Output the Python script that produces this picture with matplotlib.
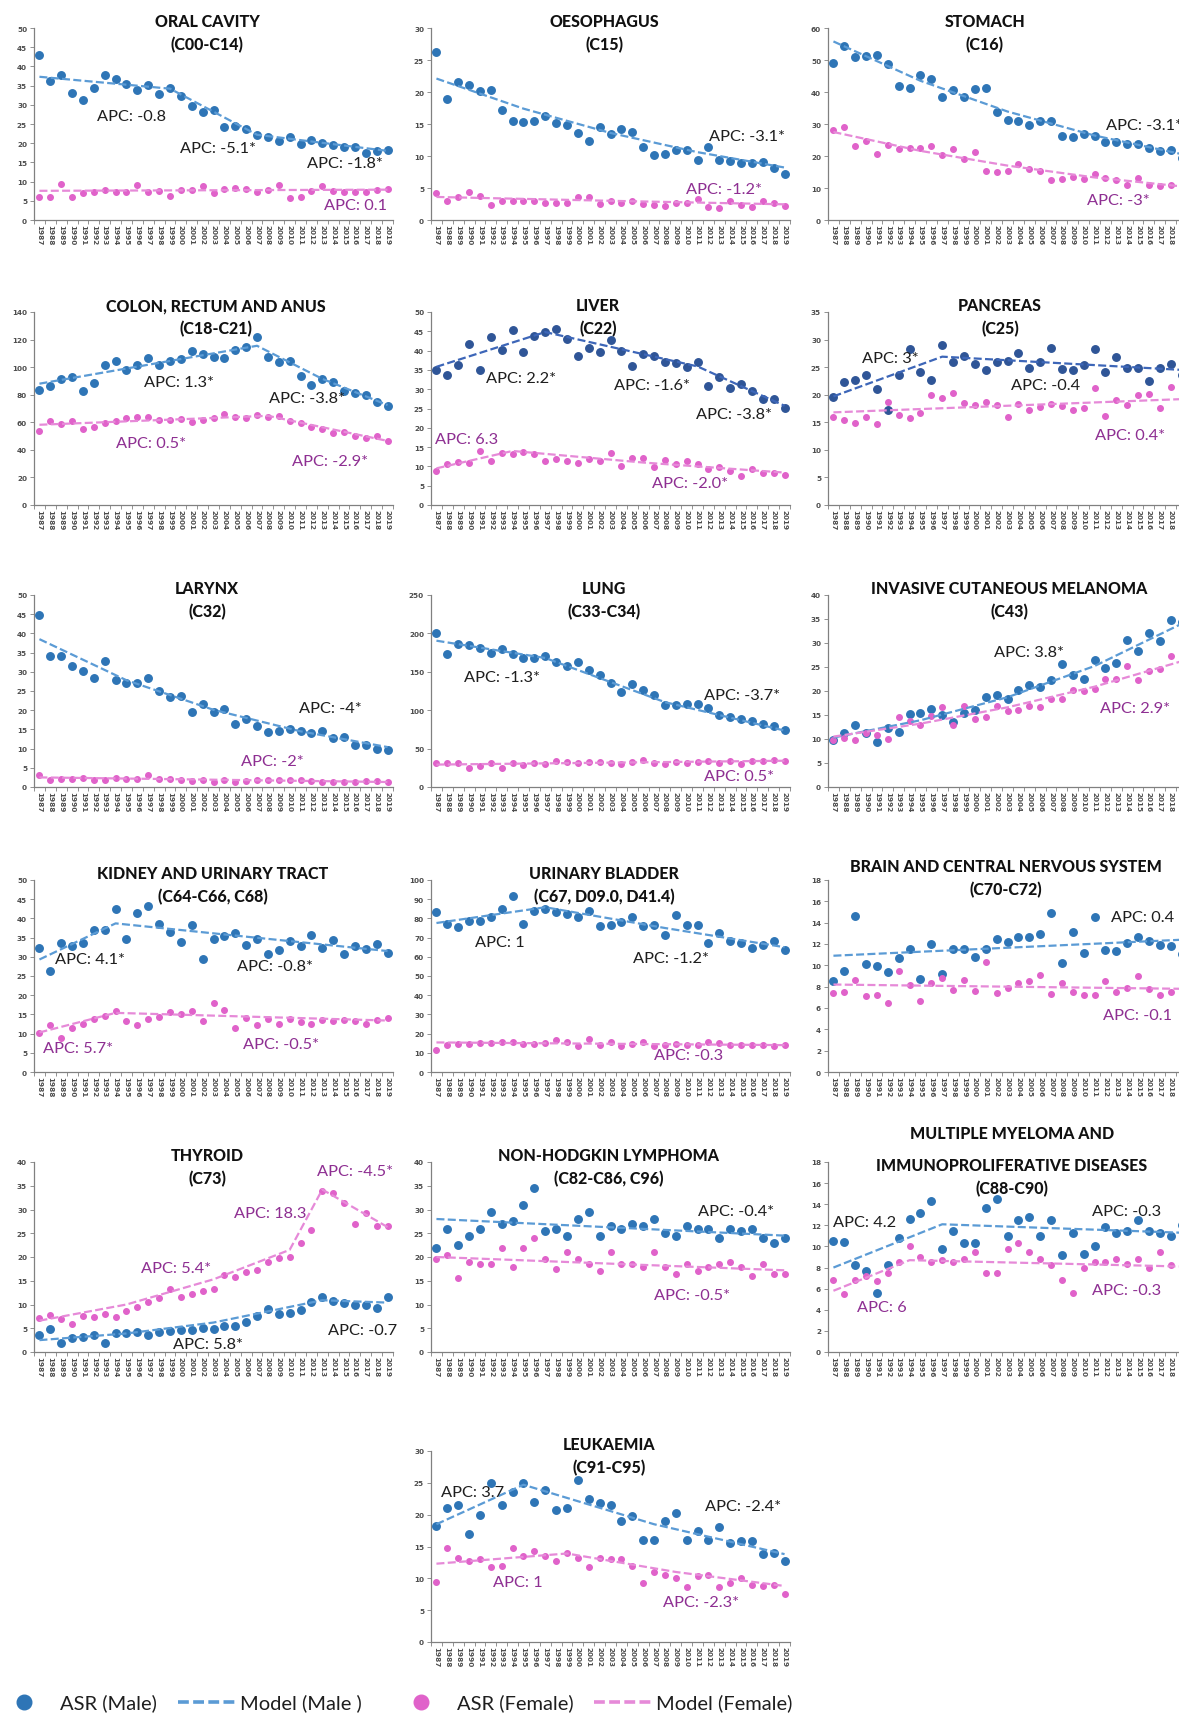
import matplotlib
matplotlib.use("Agg")
import matplotlib.pyplot as plt
import numpy as np

# ---------------------------------------------------------------------------
# Age-standardised incidence rates (ASR) by sex, 1987-2019, with joinpoint
# model knots (year, modelled rate) and annual percent change (APC) labels.
# ---------------------------------------------------------------------------
YEARS = list(range(1987, 2020))

ORAL_TITLE = ["ORAL CAVITY", "(C00-C14)"]
ORAL_M = [43.0, 36.3, 37.7, 33.2, 31.3, 34.5, 37.7, 36.7, 35.5, 33.9, 35.1, 32.7, 34.3, 32.4, 29.7, 28.0, 28.6,
          24.3, 24.4, 23.6, 22.1, 21.7, 20.7, 21.7, 19.8, 20.9, 20.0, 19.6, 19.1, 18.9, 17.4, 18.0, 18.3]
ORAL_F = [6.1, 6.1, 9.5, 5.9, 7.1, 7.2, 7.8, 7.2, 7.3, 9.0, 7.4, 7.5, 6.3, 7.8, 7.8, 8.9, 7.0,
          8.2, 8.4, 8.1, 7.3, 7.7, 9.2, 5.6, 6.1, 7.6, 8.9, 7.6, 7.3, 7.3, 7.4, 7.8, 8.0]
ORAL_FIT_M = ([1987, 1999, 2007, 2019], [37.3, 34.2, 22.2, 18.0])
ORAL_FIT_F = ([1987, 2019], [7.6, 7.9])
ORAL_APC_M = ["-0.8", "-5.1*", "-1.8*"]
ORAL_APC_F = ["0.1"]

OES_TITLE = ["OESOPHAGUS", "(C15)"]
OES_M = [26.2, 18.9, 21.6, 21.1, 20.1, 20.3, 17.2, 15.5, 15.3, 15.4, 16.3, 15.2, 14.8, 13.6, 12.4, 14.6, 13.4,
         14.2, 13.7, 11.4, 10.2, 10.3, 10.9, 10.9, 9.3, 11.4, 9.3, 9.2, 8.9, 8.9, 9.1, 8.1, 7.2]
OES_F = [4.2, 3.0, 3.6, 4.4, 3.8, 2.4, 2.9, 3.0, 2.9, 3.0, 2.7, 2.7, 2.7, 3.6, 3.6, 2.5, 2.9,
         2.7, 3.0, 2.5, 2.4, 2.2, 2.7, 2.7, 3.3, 2.1, 1.9, 2.9, 2.3, 2.0, 2.9, 2.6, 2.2]
OES_FIT_M = ([1987, 1995, 2003, 2011, 2019], [22.1, 17.4, 13.6, 10.6, 8.2])
OES_FIT_F = ([1987, 2003, 2019], [3.6, 3.0, 2.45])
OES_APC_M = ["-3.1*"]
OES_APC_F = ["-1.2*"]

STOM_TITLE = ["STOMACH", "(C16)"]
STOM_M = [49.1, 54.3, 51.0, 51.3, 51.5, 48.9, 42.0, 41.4, 45.2, 44.0, 38.5, 40.7, 38.3, 41.0, 41.2, 33.8, 31.2,
          31.0, 29.8, 30.9, 31.0, 26.3, 25.9, 27.0, 26.4, 24.3, 24.3, 23.9, 23.8, 22.6, 21.5, 21.8, 19.4]
STOM_F = [28.1, 29.2, 23.0, 24.6, 20.5, 23.4, 22.1, 22.5, 22.5, 23.2, 20.4, 22.1, 19.0, 21.1, 15.3, 14.9, 15.4,
          17.4, 15.8, 15.4, 12.6, 12.9, 13.4, 12.9, 14.5, 13.0, 12.4, 10.8, 13.1, 10.8, 10.6, 10.9, 10.5]
STOM_FIT_M = ([1987, 1995, 2003, 2011, 2019], [55.8, 43.5, 33.9, 26.4, 20.6])
STOM_FIT_F = ([1987, 1995, 2003, 2011, 2019], [27.5, 21.6, 17.0, 13.3, 10.5])
STOM_APC_M = ["-3.1*"]
STOM_APC_F = ["-3*"]

COLON_TITLE = ["COLON, RECTUM AND ANUS", "(C18-C21)"]
COLON_M = [83.2, 86.1, 91.2, 92.7, 82.7, 88.6, 101.4, 104.6, 97.8, 101.2, 106.5, 101.7, 104.8, 105.8, 111.9,
           109.2, 107.0, 106.5, 112.4, 114.3, 121.6, 107.3, 103.9, 104.3, 93.9, 87.4, 91.5, 89.3, 82.7, 81.5,
           80.1, 75.0, 71.6]
COLON_F = [53.9, 61.2, 58.7, 61.2, 54.8, 56.3, 59.7, 60.7, 63.1, 63.6, 64.1, 61.9, 61.4, 62.1, 59.9, 61.6,
           62.8, 66.0, 63.6, 63.1, 65.0, 64.1, 64.5, 61.2, 59.5, 56.5, 55.3, 51.9, 53.1, 50.2, 48.8, 50.2, 46.1]
COLON_FIT_M = ([1987, 2007, 2013, 2019], [88.0, 115.5, 91.5, 72.5])
COLON_FIT_F = ([1987, 2008, 2019], [58.2, 64.7, 46.5])
COLON_APC_M = ["1.3*", "-3.8*"]
COLON_APC_F = ["0.5*", "-2.9*"]

LIVER_TITLE = ["LIVER", "(C22)"]
LIVER_M = [35.1, 33.7, 36.3, 41.6, 35.0, 43.4, 40.2, 45.3, 39.6, 43.7, 44.7, 45.5, 43.0, 38.7, 40.7, 39.6,
           42.7, 39.9, 36.1, 39.1, 38.5, 37.0, 36.7, 35.7, 37.0, 30.7, 33.2, 30.2, 31.4, 29.5, 27.5, 27.5, 25.2]
LIVER_F = [8.7, 10.5, 11.1, 11.0, 14.1, 11.5, 13.4, 13.3, 13.8, 13.1, 11.4, 12.0, 11.5, 11.0, 11.9, 11.3,
           13.5, 10.1, 12.1, 12.1, 9.9, 11.7, 10.6, 11.4, 10.5, 9.3, 9.8, 8.7, 7.5, 9.3, 8.3, 8.3, 7.8]
LIVER_FIT_M = ([1987, 1997, 2011, 2019], [35.8, 44.8, 35.9, 25.7])
LIVER_FIT_F = ([1987, 1994, 2006, 2019], [9.5, 14.0, 11.0, 8.4])
LIVER_APC_M = ["2.2*", "-1.6*", "-3.8*"]
LIVER_APC_F = ["6.3", "-2.0*"]

PANC_TITLE = ["PANCREAS", "(C25)"]
PANC_M = [19.6, 22.3, 22.6, 23.6, 21.1, 17.3, 23.6, 28.3, 24.2, 22.7, 29.1, 25.9, 27.0, 25.6, 24.5, 25.9,
          26.1, 27.6, 24.8, 26.0, 28.5, 24.7, 24.5, 25.3, 28.3, 24.2, 26.9, 24.8, 24.8, 22.5, 24.8, 25.5, 23.6]
PANC_F = [15.9, 15.4, 14.9, 15.9, 14.6, 18.7, 16.4, 15.8, 16.7, 19.9, 19.4, 20.3, 18.5, 18.1, 18.6, 18.2,
          15.9, 18.4, 17.3, 17.7, 18.4, 18.0, 17.3, 17.6, 21.2, 16.2, 19.0, 18.1, 19.9, 20.1, 17.6, 21.4, 17.0]
PANC_FIT_M = ([1987, 1997, 2019], [19.7, 26.9, 24.5])
PANC_FIT_F = ([1987, 2019], [16.8, 19.2])
PANC_APC_M = ["3*", "-0.4"]
PANC_APC_F = ["0.4*"]

LARYNX_TITLE = ["LARYNX", "(C32)"]
LARYNX_M = [44.9, 34.0, 34.0, 31.5, 30.2, 28.4, 32.9, 27.8, 27.2, 27.0, 28.4, 25.0, 23.4, 23.6, 19.6, 21.6,
            19.6, 20.3, 16.5, 17.6, 16.0, 14.3, 14.6, 15.0, 14.5, 14.1, 14.7, 12.8, 13.0, 11.0, 10.9, 10.0, 9.7]
LARYNX_F = [3.1, 1.8, 2.2, 2.1, 2.4, 1.9, 1.9, 2.3, 2.0, 2.1, 3.0, 2.2, 2.0, 1.7, 1.5, 1.7, 1.4,
            1.7, 1.4, 1.5, 1.7, 1.8, 1.8, 1.7, 1.7, 1.6, 1.3, 1.3, 1.3, 1.3, 1.5, 1.5, 1.2]
LARYNX_FIT_M = ([1987, 1995, 2003, 2011, 2019], [38.5, 27.8, 20.1, 14.5, 10.4])
LARYNX_FIT_F = ([1987, 2019], [2.5, 1.3])
LARYNX_APC_M = ["-4*"]
LARYNX_APC_F = ["-2*"]

LUNG_TITLE = ["LUNG", "(C33-C34)"]
LUNG_M = [200.4, 173.5, 185.7, 184.3, 180.9, 174.3, 179.1, 173.0, 167.4, 167.8, 170.0, 162.6, 157.8, 162.6,
          151.7, 145.2, 135.2, 123.9, 133.9, 126.1, 120.0, 106.5, 107.4, 108.7, 107.8, 102.6, 93.9, 91.3,
          88.7, 86.1, 82.2, 80.0, 73.9]
LUNG_F = [31.3, 30.9, 30.9, 24.8, 27.0, 30.9, 25.2, 31.3, 28.3, 30.9, 29.6, 33.5, 32.2, 31.3, 32.2, 33.0,
          30.9, 30.0, 32.2, 34.8, 31.7, 29.6, 32.2, 31.7, 32.2, 33.9, 31.7, 34.3, 30.4, 33.5, 33.5, 34.8, 33.9]
LUNG_FIT_M = ([1987, 1997, 2008, 2019], [190.5, 168.0, 110.5, 73.5])
LUNG_FIT_F = ([1987, 2019], [29.2, 34.2])
LUNG_APC_M = ["-1.3*", "-3.7*"]
LUNG_APC_F = ["0.5*"]

MELA_TITLE = ["INVASIVE CUTANEOUS MELANOMA", "(C43)"]
MELA_M = [9.8, 11.2, 12.9, 11.2, 9.4, 12.2, 11.4, 15.3, 15.4, 16.3, 15.0, 13.5, 15.4, 16.1, 18.7, 19.1, 18.3,
          20.2, 21.3, 20.9, 22.3, 25.7, 23.4, 22.5, 26.4, 24.8, 25.9, 30.6, 28.4, 32.1, 30.4, 34.7, 34.4]
MELA_F = [9.7, 10.2, 9.7, 11.2, 10.9, 9.9, 14.6, 13.8, 12.9, 14.8, 16.6, 13.0, 16.8, 14.1, 14.6, 16.9, 15.9,
          16.1, 16.8, 16.7, 18.3, 18.4, 20.3, 20.1, 20.5, 22.5, 22.5, 25.2, 22.3, 24.1, 24.6, 27.3, 23.7]
MELA_FIT_M = ([1987, 1995, 2003, 2011, 2019], [10.3, 13.9, 18.7, 25.2, 34.0])
MELA_FIT_F = ([1987, 1995, 2003, 2011, 2019], [10.5, 13.2, 16.6, 20.9, 26.2])
MELA_APC_M = ["3.8*"]
MELA_APC_F = ["2.9*"]

KID_TITLE = ["KIDNEY AND URINARY TRACT", "(C64-C66, C68)"]
KID_M = [32.3, 26.4, 33.5, 32.7, 33.5, 37.0, 37.0, 42.4, 34.7, 41.4, 43.1, 38.6, 36.5, 33.9, 38.4, 29.4, 34.7,
         35.4, 36.1, 33.0, 34.7, 30.7, 31.8, 34.2, 32.7, 35.8, 32.2, 34.3, 30.8, 32.8, 32.1, 33.3, 30.9]
KID_F = [10.1, 12.3, 8.9, 11.5, 12.6, 13.9, 14.6, 15.8, 13.4, 12.3, 13.9, 14.2, 15.5, 15.2, 16.0, 13.4, 17.9,
         16.1, 11.5, 14.0, 12.2, 13.7, 12.6, 13.9, 13.1, 12.6, 13.6, 13.2, 13.5, 13.2, 12.6, 13.6, 14.0]
KID_FIT_M = ([1987, 1994, 2019], [29.3, 38.7, 31.5])
KID_FIT_F = ([1987, 1994, 2019], [10.3, 15.4, 13.4])
KID_APC_M = ["4.1*", "-0.8*"]
KID_APC_F = ["5.7*", "-0.5*"]

BLAD_TITLE = ["URINARY BLADDER", "(C67, D09.0, D41.4)"]
BLAD_M = [83.5, 76.9, 75.3, 78.8, 78.8, 80.6, 84.7, 91.8, 77.1, 84.0, 85.1, 83.5, 82.1, 80.9, 83.9, 75.9, 76.4,
          78.1, 80.6, 76.0, 76.7, 71.2, 81.8, 76.4, 76.4, 67.0, 72.4, 68.1, 67.4, 64.8, 66.3, 68.2, 63.5]
BLAD_F = [11.3, 14.2, 14.4, 14.6, 15.3, 15.3, 15.5, 15.8, 14.8, 14.8, 14.9, 16.8, 15.8, 13.4, 17.4, 14.2, 15.8,
          13.4, 14.4, 15.6, 13.7, 14.1, 14.6, 14.1, 14.1, 15.6, 14.9, 14.2, 14.2, 13.9, 13.9, 13.4, 14.2]
BLAD_FIT_M = ([1987, 1997, 2008, 2019], [77.6, 85.8, 75.0, 65.0])
BLAD_FIT_F = ([1987, 2019], [15.4, 14.0])
BLAD_APC_M = ["1", "-1.2*"]
BLAD_APC_F = ["-0.3"]

BRAIN_TITLE = ["BRAIN AND CENTRAL NERVOUS SYSTEM", "(C70-C72)"]
BRAIN_M = [8.5, 9.5, 14.6, 10.1, 9.9, 9.4, 10.7, 11.5, 8.7, 12.0, 9.2, 11.5, 11.5, 10.8, 11.5, 12.5, 12.2,
           12.7, 12.7, 12.9, 14.9, 10.2, 13.1, 11.2, 14.5, 11.4, 11.3, 12.1, 12.7, 12.3, 11.9, 11.8, 11.1]
BRAIN_F = [7.4, 7.5, 8.6, 7.1, 7.2, 6.5, 9.5, 8.2, 6.7, 8.3, 8.8, 7.7, 8.6, 7.6, 10.3, 7.4, 7.9,
           8.3, 8.5, 9.1, 7.3, 8.3, 7.5, 7.2, 7.2, 8.5, 7.5, 7.9, 9.0, 7.8, 7.2, 7.5, 7.3]
BRAIN_FIT_M = ([1987, 2019], [10.9, 12.4])
BRAIN_FIT_F = ([1987, 2019], [8.2, 7.8])
BRAIN_APC_M = ["0.4"]
BRAIN_APC_F = ["-0.1"]

THY_TITLE = ["THYROID", "(C73)"]
THY_M = [3.5, 4.8, 2.0, 3.0, 3.2, 3.5, 1.8, 4.0, 4.0, 4.2, 3.5, 4.3, 4.5, 4.6, 4.6, 5.0, 4.8,
         5.4, 5.5, 6.4, 7.5, 9.0, 8.0, 8.2, 8.8, 10.5, 11.6, 10.8, 10.3, 10.0, 10.0, 9.2, 11.5]
THY_F = [7.2, 7.7, 7.0, 6.0, 7.5, 7.3, 8.0, 7.4, 8.7, 9.5, 10.5, 11.3, 13.3, 11.5, 12.2, 12.8, 13.2,
         16.3, 15.8, 16.8, 17.3, 19.0, 19.8, 20.0, 23.0, 25.7, 34.0, 33.5, 31.3, 27.0, 29.2, 26.5, 26.5]
THY_FIT_M = ([1987, 1995, 2003, 2013, 2019], [2.5, 3.9, 6.2, 10.9, 10.4])
THY_FIT_F = ([1987, 1995, 2003, 2010, 2013, 2019], [6.6, 10.0, 15.3, 21.5, 34.2, 26.3])
THY_APC_M = ["5.8*", "-0.7"]
THY_APC_F = ["5.4*", "18.3", "-4.5*"]

NHL_TITLE = ["NON-HODGKIN LYMPHOMA", "(C82-C86, C96)"]
NHL_M = [22.0, 26.0, 22.5, 24.5, 26.0, 29.5, 27.0, 27.5, 31.0, 34.5, 25.5, 26.0, 24.5, 28.0, 29.5, 24.5, 26.5,
         26.0, 27.0, 26.5, 28.0, 25.0, 24.5, 26.5, 26.0, 26.0, 24.0, 26.0, 25.5, 26.0, 24.0, 23.0, 24.0]
NHL_F = [19.5, 20.5, 15.5, 19.0, 18.5, 18.5, 22.0, 18.0, 22.0, 24.0, 19.5, 17.5, 21.0, 19.5, 18.5, 17.0, 21.0,
         18.5, 18.5, 18.0, 21.0, 18.0, 16.5, 18.5, 17.0, 18.0, 18.5, 19.0, 18.0, 16.0, 18.5, 16.5, 16.5]
NHL_FIT_M = ([1987, 2019], [28.0, 24.5])
NHL_FIT_F = ([1987, 2019], [20.0, 17.2])
NHL_APC_M = ["-0.4*"]
NHL_APC_F = ["-0.5*"]

MYEL_TITLE = ["MULTIPLE MYELOMA AND", "IMMUNOPROLIFERATIVE DISEASES", "(C88-C90)"]
MYEL_M = [10.5, 10.4, 8.2, 7.7, 5.6, 8.2, 10.8, 12.6, 13.2, 14.3, 9.8, 11.5, 10.3, 10.3, 13.6, 14.5, 11.0,
          12.5, 12.8, 11.0, 12.5, 9.2, 11.3, 9.3, 10.0, 11.8, 11.3, 11.5, 12.5, 11.5, 11.3, 11.0, 12.0]
MYEL_F = [6.8, 5.5, 6.8, 7.2, 6.7, 7.5, 8.5, 10.0, 9.0, 8.5, 8.7, 8.5, 8.8, 9.5, 7.5, 7.5, 9.8,
          10.3, 9.5, 8.8, 8.2, 6.8, 5.6, 8.0, 8.5, 8.5, 8.8, 8.3, 8.8, 8.0, 9.5, 8.2, 8.0]
MYEL_FIT_M = ([1987, 1997, 2019], [8.0, 12.1, 11.3])
MYEL_FIT_F = ([1987, 1994, 2019], [5.8, 8.7, 8.1])
MYEL_APC_M = ["4.2", "-0.3"]
MYEL_APC_F = ["6", "-0.3"]

LEUK_TITLE = ["LEUKAEMIA", "(C91-C95)"]
LEUK_M = [18.2, 21.0, 21.5, 17.0, 20.0, 25.0, 21.5, 23.5, 25.0, 22.0, 23.8, 20.8, 21.0, 25.5, 22.5, 21.8, 21.5,
          19.0, 19.8, 16.0, 16.0, 19.0, 20.3, 16.0, 17.5, 16.0, 18.0, 15.5, 15.8, 15.8, 13.8, 14.0, 12.8]
LEUK_F = [9.5, 14.8, 13.2, 12.8, 13.0, 11.8, 12.0, 14.8, 13.5, 14.3, 13.5, 12.8, 14.0, 13.2, 11.8, 13.2, 13.0,
          13.0, 12.0, 9.3, 11.0, 10.5, 10.0, 8.7, 10.3, 10.5, 8.7, 9.3, 10.0, 9.0, 8.8, 9.0, 7.5]
LEUK_FIT_M = ([1987, 1995, 2007, 2019], [18.5, 24.7, 18.5, 13.8])
LEUK_FIT_F = ([1987, 1999, 2009, 2019], [12.3, 13.9, 11.0, 8.8])
LEUK_APC_M = ["3.7", "-2.4*"]
LEUK_APC_F = ["1", "-2.3*"]

LEGEND_LABELS = ["ASR (Male)", "Model (Male )", "ASR (Female)", "Model (Female)"]

# ---------------------------------------------------------------------------
# Layout (figure pixels, origin top-left) and styling
# ---------------------------------------------------------------------------
FIG_W, FIG_H = 1179, 1715
COL_LEFT = [34, 431, 828]
COL_TITLE_X = [207, 604, 1000]
AX_W = 359
ROW_TOP = [29, 313, 596, 881, 1163, 1452]
ROW_BOTTOM = [221, 506, 788, 1073, 1353, 1643]

BLUE = "#2E75B6"
BLUE_FIT = "#5B9BD5"
NAVY = "#2F5597"
NAVY_FIT = "#3D66B8"
PINK = "#E062CA"
PINK_FIT = "#E68AD8"
APC_M_COLOR = "#1E1E1E"
APC_F_COLOR = "#8E2F92"
AXIS_COLOR = "#808080"
TICK_TEXT = "#4D4D4D"
TEXT_FONT = ["Lato", "DejaVu Sans"]

# (series, layout) for every panel; APC label anchors are (year index, rate)
PANELS = [
    dict(title=ORAL_TITLE, m=ORAL_M, f=ORAL_F, fit_m=ORAL_FIT_M, fit_f=ORAL_FIT_F,
         apc_m=ORAL_APC_M, apc_f=ORAL_APC_F, row=0, col=0, ymax=50, step=5,
         pos_m=[(5.3, 27.0), (12.9, 18.7), (24.6, 14.8)], pos_f=[(26.2, 3.9)]),
    dict(title=OES_TITLE, m=OES_M, f=OES_F, fit_m=OES_FIT_M, fit_f=OES_FIT_F,
         apc_m=OES_APC_M, apc_f=OES_APC_F, row=0, col=1, ymax=30, step=5,
         pos_m=[(25.1, 13.1)], pos_f=[(22.9, 4.8)]),
    dict(title=STOM_TITLE, m=STOM_M, f=STOM_F, fit_m=STOM_FIT_M, fit_f=STOM_FIT_F,
         apc_m=STOM_APC_M, apc_f=STOM_APC_F, row=0, col=2, ymax=60, step=10,
         pos_m=[(25.1, 29.8)], pos_f=[(23.3, 6.1)], tx=-15),
    dict(title=COLON_TITLE, m=COLON_M, f=COLON_F, fit_m=COLON_FIT_M, fit_f=COLON_FIT_F,
         apc_m=COLON_APC_M, apc_f=COLON_APC_F, row=1, col=0, ymax=140, step=20,
         pos_m=[(9.6, 89.0), (21.1, 77.4)], pos_f=[(7.0, 44.9), (23.2, 32.0)], tx=9),
    dict(title=LIVER_TITLE, m=LIVER_M, f=LIVER_F, fit_m=LIVER_FIT_M, fit_f=LIVER_FIT_F,
         apc_m=LIVER_APC_M, apc_f=LIVER_APC_F, row=1, col=1, ymax=50, step=5, navy=True,
         pos_m=[(4.6, 33.0), (16.3, 31.0), (23.9, 23.5)], pos_f=[(-0.1, 17.0), (19.8, 5.7)], tx=-6),
    dict(title=PANC_TITLE, m=PANC_M, f=PANC_F, fit_m=PANC_FIT_M, fit_f=PANC_FIT_F,
         apc_m=PANC_APC_M, apc_f=PANC_APC_F, row=1, col=2, ymax=35, step=5, navy=True,
         pos_m=[(2.6, 26.7), (16.3, 21.7)], pos_f=[(24.0, 12.7)]),
    dict(title=LARYNX_TITLE, m=LARYNX_M, f=LARYNX_F, fit_m=LARYNX_FIT_M, fit_f=LARYNX_FIT_F,
         apc_m=LARYNX_APC_M, apc_f=LARYNX_APC_F, row=2, col=0, ymax=50, step=5,
         pos_m=[(23.9, 20.7)], pos_f=[(18.5, 6.8)]),
    dict(title=LUNG_TITLE, m=LUNG_M, f=LUNG_F, fit_m=LUNG_FIT_M, fit_f=LUNG_FIT_F,
         apc_m=LUNG_APC_M, apc_f=LUNG_APC_F, row=2, col=1, ymax=250, step=50,
         pos_m=[(2.5, 143.5), (24.6, 119.6)], pos_f=[(24.6, 13.9)]),
    dict(title=MELA_TITLE, m=MELA_M, f=MELA_F, fit_m=MELA_FIT_M, fit_f=MELA_FIT_F,
         apc_m=MELA_APC_M, apc_f=MELA_APC_F, row=2, col=2, ymax=40, step=5,
         pos_m=[(14.8, 28.2)], pos_f=[(24.5, 16.4)], tx=9),
    dict(title=KID_TITLE, m=KID_M, f=KID_F, fit_m=KID_FIT_M, fit_f=KID_FIT_F,
         apc_m=KID_APC_M, apc_f=KID_APC_F, row=3, col=0, ymax=50, step=5,
         pos_m=[(1.4, 29.3), (18.2, 27.6)], pos_f=[(0.3, 6.2), (18.7, 7.2)], tx=6),
    dict(title=BLAD_TITLE, m=BLAD_M, f=BLAD_F, fit_m=BLAD_FIT_M, fit_f=BLAD_FIT_F,
         apc_m=BLAD_APC_M, apc_f=BLAD_APC_F, row=3, col=1, ymax=100, step=10,
         pos_m=[(3.5, 67.7), (18.1, 59.5)], pos_f=[(20.0, 8.7)]),
    dict(title=BRAIN_TITLE, m=BRAIN_M, f=BRAIN_F, fit_m=BRAIN_FIT_M, fit_f=BRAIN_FIT_F,
         apc_m=BRAIN_APC_M, apc_f=BRAIN_APC_F, row=3, col=2, ymax=18, step=2,
         pos_m=[(25.5, 14.5)], pos_f=[(24.8, 5.3)], tx=6, ty=-7),
    dict(title=THY_TITLE, m=THY_M, f=THY_F, fit_m=THY_FIT_M, fit_f=THY_FIT_F,
         apc_m=THY_APC_M, apc_f=THY_APC_F, row=4, col=0, ymax=40, step=5,
         pos_m=[(12.3, 1.6), (26.5, 4.6)], pos_f=[(9.3, 17.7), (17.9, 29.2), (25.5, 38.2)]),
    dict(title=NHL_TITLE, m=NHL_M, f=NHL_F, fit_m=NHL_FIT_M, fit_f=NHL_FIT_F,
         apc_m=NHL_APC_M, apc_f=NHL_APC_F, row=4, col=1, ymax=40, step=5,
         pos_m=[(24.0, 29.7)], pos_f=[(20.0, 12.0)], tx=5),
    dict(title=MYEL_TITLE, m=MYEL_M, f=MYEL_F, fit_m=MYEL_FIT_M, fit_f=MYEL_FIT_F,
         apc_m=MYEL_APC_M, apc_f=MYEL_APC_F, row=4, col=2, ymax=18, step=2,
         pos_m=[(0.0, 12.3), (23.8, 13.4)], pos_f=[(2.2, 4.3), (23.8, 5.9)], tx=12),
    dict(title=LEUK_TITLE, m=LEUK_M, f=LEUK_F, fit_m=LEUK_FIT_M, fit_f=LEUK_FIT_F,
         apc_m=LEUK_APC_M, apc_f=LEUK_APC_F, row=5, col=1, ymax=30, step=5,
         pos_m=[(0.4, 23.5), (24.7, 21.3)], pos_f=[(5.2, 9.4), (20.8, 6.3)], tx=5),
]

fig = plt.figure(figsize=(FIG_W / 100, FIG_H / 100), dpi=100)
fig.patch.set_facecolor("white")

# Full-figure overlay in pixel units for titles and the legend strip
overlay = fig.add_axes([0, 0, 1, 1])
overlay.set_xlim(0, FIG_W)
overlay.set_ylim(FIG_H, 0)
overlay.axis("off")


def px_axes(left, top, width, height):
    return fig.add_axes([left / FIG_W, 1 - (top + height) / FIG_H, width / FIG_W, height / FIG_H])


def fit_index(years):
    return [y - YEARS[0] for y in years]


xs = np.arange(len(YEARS))
DASH = (3.6, 1.5)

for p in PANELS:
    r, c = p["row"], p["col"]
    top, bottom = ROW_TOP[r], ROW_BOTTOM[r]
    ax = px_axes(COL_LEFT[c], top, AX_W, bottom - top)
    ax.patch.set_alpha(0)
    navy = p.get("navy", False)
    dot_m = NAVY if navy else BLUE
    fit_m = NAVY_FIT if navy else BLUE_FIT

    ax.plot(xs, p["m"], "o", ms=5.4, color=dot_m, mec=dot_m, zorder=3, clip_on=False)
    lm, = ax.plot(fit_index(p["fit_m"][0]), p["fit_m"][1], color=fit_m, lw=1.6, zorder=4)
    lm.set_dashes(DASH)
    ax.plot(xs, p["f"], "o", ms=4.0, color=PINK, mec=PINK, zorder=3, clip_on=False)
    lf, = ax.plot(fit_index(p["fit_f"][0]), p["fit_f"][1], color=PINK_FIT, lw=1.6, zorder=4)
    lf.set_dashes(DASH)

    for txt, (x, y) in zip(p["apc_m"], p["pos_m"]):
        ax.text(x, y, "APC: " + txt, fontsize=11.8, family=TEXT_FONT, color=APC_M_COLOR,
                ha="left", va="center", zorder=5)
    for txt, (x, y) in zip(p["apc_f"], p["pos_f"]):
        ax.text(x, y, "APC: " + txt, fontsize=11.8, family=TEXT_FONT, color=APC_F_COLOR,
                ha="left", va="center", zorder=5)

    ax.set_xlim(-0.5, len(YEARS) - 0.5)
    ax.set_ylim(0, p["ymax"])
    yt = np.arange(0, p["ymax"] + p["step"] / 2, p["step"])
    ax.set_yticks(yt)
    ax.set_yticklabels([f"{v:g}" for v in yt], fontsize=5.2, color=TICK_TEXT, fontweight="bold")
    ax.set_xticks(xs)
    ax.set_xticklabels([str(y) for y in YEARS], rotation=-90, fontsize=5.2, color=TICK_TEXT,
                       fontweight="bold", ha="center", va="top")
    ax.set_xticks(np.arange(-0.5, len(YEARS)), minor=True)
    ax.tick_params(axis="x", which="major", length=0, pad=3)
    ax.tick_params(axis="x", which="minor", length=3, width=0.6, color=AXIS_COLOR, direction="out")
    ax.tick_params(axis="y", length=3, width=0.6, color=AXIS_COLOR, pad=2)
    for s in ("top", "right"):
        ax.spines[s].set_visible(False)
    for s in ("left", "bottom"):
        ax.spines[s].set_color(AXIS_COLOR)
        ax.spines[s].set_linewidth(0.9)

    # Panel heading
    cx = COL_TITLE_X[c] + p.get("tx", 0)
    lines = p["title"]
    if len(lines) == 3:
        offsets = [-29, 3, 26]
    else:
        offsets = [-7, 16]
    for line, off in zip(lines, offsets):
        overlay.text(cx, top + off + p.get("ty", 0), line, fontsize=11.5, fontweight=900,
                     family=TEXT_FONT, color="#111111", ha="center", va="center")

# Legend strip
LEG_Y = 1703
overlay.plot([24], [LEG_Y], "o", ms=10.5, color=BLUE, clip_on=False)
overlay.text(60, LEG_Y, LEGEND_LABELS[0], fontsize=14.5, family=TEXT_FONT, color="#1E1E1E",
             ha="left", va="center")
lg1, = overlay.plot([178, 238], [LEG_Y, LEG_Y], color=BLUE_FIT, lw=2.6, clip_on=False)
lg1.set_dashes((3.0, 1.2))
overlay.text(240, LEG_Y, LEGEND_LABELS[1], fontsize=14.5, family=TEXT_FONT, color="#1E1E1E",
             ha="left", va="center")
overlay.plot([421], [LEG_Y], "o", ms=10.5, color=PINK, clip_on=False)
overlay.text(457, LEG_Y, LEGEND_LABELS[2], fontsize=14.5, family=TEXT_FONT, color="#1E1E1E",
             ha="left", va="center")
lg2, = overlay.plot([594, 654], [LEG_Y, LEG_Y], color=PINK_FIT, lw=2.6, clip_on=False)
lg2.set_dashes((3.0, 1.2))
overlay.text(656, LEG_Y, LEGEND_LABELS[3], fontsize=14.5, family=TEXT_FONT, color="#1E1E1E",
             ha="left", va="center")

fig.savefig("out.png", dpi=100, facecolor="white")
